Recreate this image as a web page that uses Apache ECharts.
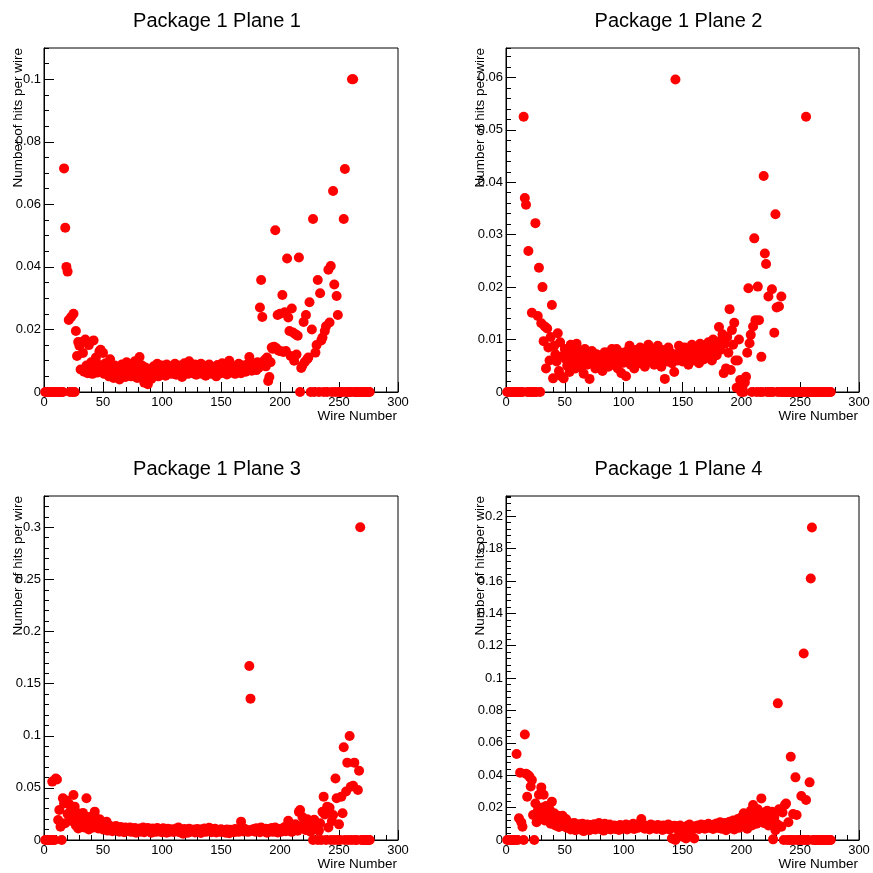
<!DOCTYPE html>
<html>
<head>
<meta charset="utf-8">
<script src="https://cdn.jsdelivr.net/npm/echarts@6/dist/echarts.min.js"></script>
<style>
  html, body { margin: 0; padding: 0; background: #ffffff; }
  #chart { width: 873px; height: 873px; }
</style>
</head>
<body>
<div id="chart"></div>
<script>
// Hit occupancy per wire for the four planes of package 1
const panelTitles = ['Package 1 Plane 1', 'Package 1 Plane 2', 'Package 1 Plane 3', 'Package 1 Plane 4'];
const xTitle = 'Wire Number';
const yTitle = 'Number of hits per wire';

const wireNumbers = Array.from({ length: 276 }, (_, i) => i + 1);

const plane1Hits = [
  0,0,0,0,0,0,0,0,0,0,
  0,0,0,0,0,0,0.0715,0.0525,0.0400,0.0385,
  0.0230,0,0.0240,0,0.0250,0,0.0195,0.0115,0.0160,0.0148,
  0.0072,0.0160,0.0125,0.0065,0.0168,0.0085,0.0060,0.0150,0.0068,0.0095,
  0.0058,0.0165,0.0072,0.0110,0.0062,0.0088,0.0130,0.0135,0.0070,0.0125,
  0.0058,0.0092,0.0065,0.0082,0.0050,0.0105,0.0068,0.0075,0.0045,0.0085,
  0.0070,0.0052,0.0078,0.0040,0.0065,0.0088,0.0055,0.0072,0.0048,0.0095,
  0.0060,0.0080,0.0068,0.0050,0.0082,0.0058,0.0098,0.0064,0.0045,0.0075,
  0.0112,0.0070,0.0085,0.0055,0.0030,0.0078,0.0048,0.0025,0.0058,0.0068,
  0.0042,0.0075,0.0082,0.0055,0.0065,0.0090,0.0050,0.0072,0.0060,0.0085,
  0.0068,0.0078,0.0052,0.0088,0.0062,0.0070,0.0082,0.0058,0.0074,0.0065,
  0.0090,0.0055,0.0068,0.0078,0.0060,0.0085,0.0048,0.0072,0.0092,0.0064,
  0.0075,0.0058,0.0098,0.0068,0.0082,0.0060,0.0072,0.0088,0.0055,0.0066,
  0.0078,0.0062,0.0090,0.0058,0.0070,0.0084,0.0052,0.0075,0.0064,0.0088,
  0.0068,0.0058,0.0080,0.0062,0.0072,0.0050,0.0086,0.0066,0.0078,0.0060,
  0.0092,0.0064,0.0074,0.0088,0.0056,0.0070,0.0100,0.0062,0.0078,0.0068,
  0.0082,0.0058,0.0072,0.0066,0.0090,0.0075,0.0060,0.0085,0.0070,0.0078,
  0.0065,0.0088,0.0072,0.0112,0.0080,0.0068,0.0092,0.0075,0.0085,0.0070,
  0.0095,0.0078,0.0270,0.0358,0.0240,0.0088,0.0102,0.0082,0.0110,0.0035,
  0.0048,0.0095,0.0142,0.0138,0.0145,0.0517,0.0140,0.0246,0.0132,0.0250,
  0.0130,0.0310,0.0128,0.0255,0.0131,0.0427,0.0238,0.0195,0.0115,0.0267,
  0.0190,0.0100,0.0185,0.0120,0.0180,0.0430,0,0.0077,0.0085,0.0224,
  0.0096,0.0246,0.0105,0.0110,0.0287,0,0.0200,0.0553,0,0.0126,
  0.0150,0.0358,0,0.0316,0.0165,0.0174,0,0.0195,0.0210,0,
  0.0391,0.0222,0.0403,0,0.0643,0.0344,0,0.0307,0.0246,0,
  0,0,0,0.0553,0.0713,0,0,0,0,0,
  0.1000,0.1000,0,0,0,0,0,0,0,0,
  0,0,0,0,0,0
];

const plane2Hits = [
  0,0,0,0,0,0,0,0,0,0,
  0,0,0,0,0.0525,0.0370,0.0357,0,0.0269,0,
  0,0.0151,0,0,0.0322,0,0.0145,0.0237,0,0.0131,
  0.0200,0.0097,0.0125,0.0045,0.0121,0.0085,0.0060,0.0105,0.0166,0.0026,
  0.0088,0.0072,0.0058,0.0112,0.0040,0.0095,0.0030,0.0068,0.0026,0.0082,
  0.0062,0.0050,0.0075,0.0038,0.0090,0.0066,0.0058,0.0080,0.0045,0.0092,
  0.0055,0.0070,0.0048,0.0078,0.0060,0.0035,0.0082,0.0065,0.0052,0.0074,
  0.0025,0.0068,0.0078,0.0055,0.0062,0.0045,0.0072,0.0058,0.0066,0.0050,
  0.0070,0.0040,0.0063,0.0076,0.0055,0.0068,0.0048,0.0073,0.0060,0.0082,
  0.0052,0.0066,0.0058,0.0082,0.0045,0.0070,0.0062,0.0036,0.0075,0.0056,
  0.0068,0.0030,0.0078,0.0060,0.0088,0.0052,0.0072,0.0065,0.0045,0.0080,
  0.0062,0.0075,0.0055,0.0085,0.0068,0.0058,0.0072,0.0048,0.0078,0.0065,
  0.0090,0.0058,0.0070,0.0062,0.0082,0.0052,0.0075,0.0066,0.0088,0.0060,
  0.0072,0.0048,0.0080,0.0065,0.0025,0.0070,0.0058,0.0085,0.0062,0.0075,
  0.0055,0.0068,0.0038,0.0596,0.0072,0.0060,0.0088,0.0066,0.0078,0.0058,
  0.0070,0.0085,0.0062,0.0075,0.0052,0.0080,0.0068,0.0090,0.0060,0.0072,
  0.0078,0.0065,0.0085,0.0055,0.0092,0.0070,0.0080,0.0062,0.0088,0.0075,
  0.0068,0.0095,0.0072,0.0082,0.0060,0.0100,0.0078,0.0090,0.0070,0.0085,
  0.0124,0.0080,0.0099,0.0110,0.0036,0.0092,0.0045,0.0105,0.0075,0.0158,
  0.0042,0.0118,0.0090,0.0132,0.0060,0.0008,0.0060,0.0100,0.0023,0,
  0.0010,0,0.0018,0.0029,0.0075,0.0198,0.0093,0.0109,0,0.0125,
  0.0293,0.0137,0,0.0201,0.0137,0,0.0067,0,0.0412,0.0264,
  0.0244,0,0.0182,0,0,0.0196,0,0.0113,0.0339,0.0161,
  0,0.0163,0,0.0182,0,0,0,0,0,0,
  0,0,0,0,0,0,0,0,0,0,
  0,0,0,0,0.0525,0,0,0,0,0,
  0,0,0,0,0,0,0,0,0,0,
  0,0,0,0,0,0
];

const plane3Hits = [
  0,0,0,0,0,0,0.0560,0,0,0.0590,
  0.0580,0.0192,0.0288,0.0128,0,0.0400,0.0350,0.0160,0.0380,0.0250,
  0.0350,0.0224,0.0300,0.0180,0.0432,0.0320,0.0140,0.0260,0.0110,0.0200,
  0.0150,0.0240,0.0260,0.0120,0.0180,0.0400,0.0220,0.0100,0.0190,0.0140,
  0.0230,0.0120,0.0272,0.0208,0.0160,0.0110,0.0200,0.0130,0.0170,0.0100,
  0.0150,0.0120,0.0176,0.0090,0.0140,0.0110,0.0130,0.0085,0.0120,0.0100,
  0.0135,0.0090,0.0115,0.0080,0.0125,0.0095,0.0110,0.0075,0.0120,0.0090,
  0.0105,0.0085,0.0120,0.0078,0.0100,0.0092,0.0115,0.0070,0.0105,0.0088,
  0.0110,0.0080,0.0098,0.0120,0.0075,0.0105,0.0090,0.0115,0.0082,0.0100,
  0.0070,0.0110,0.0088,0.0100,0.0078,0.0115,0.0092,0.0082,0.0105,0.0075,
  0.0112,0.0085,0.0098,0.0070,0.0108,0.0090,0.0080,0.0102,0.0088,0.0076,
  0.0095,0.0110,0.0082,0.0120,0.0075,0.0098,0.0088,0.0060,0.0105,0.0085,
  0.0092,0.0070,0.0108,0.0080,0.0095,0.0086,0.0100,0.0072,0.0090,0.0105,
  0.0080,0.0095,0.0068,0.0102,0.0088,0.0110,0.0078,0.0095,0.0085,0.0118,
  0.0090,0.0075,0.0100,0.0085,0.0108,0.0072,0.0095,0.0088,0.0080,0.0102,
  0.0078,0.0095,0.0085,0.0070,0.0100,0.0088,0.0065,0.0098,0.0082,0.0092,
  0.0075,0.0105,0.0085,0.0095,0.0078,0.0100,0.0176,0.0090,0.0082,0.0108,
  0.0085,0.0095,0.0078,0.1670,0.1356,0.0098,0.0088,0.0105,0.0080,0.0112,
  0.0090,0.0100,0.0075,0.0120,0.0088,0.0098,0.0082,0.0108,0.0070,0.0095,
  0.0105,0.0085,0.0115,0.0078,0.0098,0.0120,0.0088,0.0072,0.0105,0.0092,
  0.0080,0.0110,0.0095,0.0125,0.0085,0.0100,0.0185,0.0090,0.0112,0.0078,
  0.0120,0.0095,0.0150,0.0105,0.0088,0.0270,0.0288,0.0135,0.0220,0.0110,
  0.0165,0.0095,0.0200,0.0140,0.0180,0.0080,0.0150,0,0.0195,0.0105,
  0.0140,0,0.0090,0.0160,0,0.0270,0.0416,0.0245,0,0.0320,
  0.0120,0.0310,0,0.0180,0.0240,0,0.0590,0.0400,0,0.0150,
  0,0.0416,0.0256,0.0890,0,0.0466,0.0742,0,0.0998,0.0510,
  0,0.0520,0.0742,0,0,0.0480,0.0665,0.3000,0,0,
  0,0,0,0,0,0
];

const plane4Hits = [
  0,0,0,0,0,0,0,0,0.0531,0,
  0.0134,0.0416,0.0110,0.0082,0,0.0652,0.0410,0.0267,0.0400,0.0390,
  0.0330,0.0370,0.0154,0,0.0226,0.0110,0.0180,0.0280,0.0150,0.0325,
  0.0200,0.0280,0.0120,0.0210,0.0160,0.0130,0.0190,0.0100,0.0237,0.0140,
  0.0165,0.0090,0.0120,0.0150,0.0080,0.0140,0.0105,0.0150,0.0085,0.0120,
  0.0130,0.0075,0.0110,0.0090,0.0065,0.0100,0.0080,0.0105,0.0060,0.0090,
  0.0075,0.0098,0.0065,0.0085,0.0100,0.0055,0.0088,0.0070,0.0095,0.0078,
  0.0060,0.0092,0.0082,0.0070,0.0098,0.0065,0.0085,0.0075,0.0105,0.0068,
  0.0090,0.0080,0.0058,0.0100,0.0078,0.0088,0.0070,0.0095,0.0065,0.0082,
  0.0075,0.0090,0.0068,0.0085,0.0078,0.0062,0.0092,0.0080,0.0070,0.0088,
  0.0075,0.0095,0.0065,0.0085,0.0078,0.0090,0.0072,0.0100,0.0068,0.0082,
  0.0090,0.0075,0.0085,0.0105,0.0130,0.0080,0.0092,0.0070,0.0088,0.0078,
  0.0085,0.0065,0.0095,0.0078,0.0090,0.0072,0.0085,0.0068,0.0092,0.0080,
  0.0075,0.0088,0.0062,0.0090,0.0078,0.0085,0.0070,0.0095,0.0065,0.0082,
  0.0010,0.0078,0.0088,0,0.0072,0.0085,0.0030,0.0090,0.0068,0.0020,
  0.0080,0.0075,0.0010,0.0088,0.0070,0.0095,0.0035,0.0082,0.0075,0.0010,
  0.0085,0.0072,0.0090,0.0068,0.0080,0.0095,0.0075,0.0088,0.0070,0.0092,
  0.0082,0.0100,0.0075,0.0090,0.0085,0.0068,0.0095,0.0080,0.0102,0.0075,
  0.0088,0.0110,0.0070,0.0095,0.0085,0.0105,0.0060,0.0098,0.0080,0.0112,
  0.0072,0.0100,0.0120,0.0065,0.0105,0.0090,0.0130,0.0075,0.0115,0.0140,
  0.0085,0.0165,0.0100,0.0125,0.0070,0.0145,0.0110,0.0180,0.0090,0.0216,
  0.0130,0.0160,0.0100,0.0190,0.0120,0.0150,0.0257,0.0140,0.0105,0.0170,
  0.0130,0.0180,0.0090,0.0160,0.0120,0.0175,0.0004,0.0140,0.0060,0.0100,
  0.0844,0.0190,0.0085,0.0082,0.0170,0,0.0216,0.0226,0,0.0110,
  0,0.0514,0,0.0160,0,0.0387,0.0154,0,0,0,
  0.0272,0,0.1152,0,0.0247,0,0,0.0356,0.1615,0.1930,
  0,0,0,0,0,0,0,0,0,0,
  0,0,0,0,0,0
];

const planeHits = [plane1Hits, plane2Hits, plane3Hits, plane4Hits];

// y-axis ranges: top of frame, labelled step, minor tick step
const yMax = [0.11, 0.0656, 0.33, 0.2125];
const yStep = [0.02, 0.01, 0.05, 0.02];
const yMinorStep = [0.005, 0.002, 0.01, 0.004];

const FONT = 'Liberation Sans, Arial, Helvetica, sans-serif';

// pad frames in pixels
const frames = [
  { left: 44, top: 48, width: 354, height: 344 },
  { left: 506, top: 48, width: 353, height: 344 },
  { left: 44, top: 496, width: 354, height: 344 },
  { left: 506, top: 496, width: 353, height: 344 }
];

const grids = [], xAxes = [], yAxes = [], series = [], graphics = [];

frames.forEach((f, i) => {
  grids.push({
    left: f.left, top: f.top, width: f.width, height: f.height,
    show: true, borderColor: '#000', borderWidth: 1, backgroundColor: 'transparent',
    containLabel: false
  });

  xAxes.push({
    type: 'value', gridIndex: i, min: 0, max: 300, interval: 50,
    axisLine: { show: true, lineStyle: { color: '#000', width: 1 } },
    axisTick: { show: true, inside: true, length: 10, lineStyle: { color: '#000' } },
    minorTick: { show: true, splitNumber: 5, length: 5, lineStyle: { color: '#000' } },
    splitLine: { show: false }, minorSplitLine: { show: false },
    axisLabel: { color: '#000', fontSize: 13, fontFamily: FONT, margin: 4 }
  });

  // labelled axis
  yAxes.push({
    type: 'value', gridIndex: i, min: 0, max: yMax[i], interval: yStep[i],
    axisLine: { show: true, lineStyle: { color: '#000', width: 1 } },
    axisTick: { show: true, inside: true, length: 10, lineStyle: { color: '#000' } },
    splitLine: { show: false },
    axisLabel: { color: '#000', fontSize: 13, fontFamily: FONT, margin: 3, showMaxLabel: false }
  });
  // fine tick marks
  yAxes.push({
    type: 'value', gridIndex: i, min: 0, max: yMax[i], interval: yMinorStep[i],
    position: 'left', offset: 0,
    axisLine: { show: false },
    axisTick: { show: true, inside: true, length: 5, lineStyle: { color: '#000' } },
    splitLine: { show: false },
    axisLabel: { show: false }
  });

  series.push({
    type: 'scatter', xAxisIndex: i, yAxisIndex: 2 * i,
    symbol: 'circle', symbolSize: 10,
    itemStyle: { color: '#ff0000', opacity: 1 },
    data: planeHits[i].map((v, k) => [wireNumbers[k], v]),
    silent: true
  });

  graphics.push({
    type: 'text', x: f.left + f.width / 2 - 4, y: f.top - 27,
    style: { text: panelTitles[i], fill: '#000', font: '20px ' + FONT, align: 'center', verticalAlign: 'middle' }
  });
  graphics.push({
    type: 'text', x: f.left - 26, y: f.top, rotation: Math.PI / 2,
    style: { text: yTitle, fill: '#000', font: '13.5px ' + FONT, align: 'right', verticalAlign: 'middle' }
  });
  graphics.push({
    type: 'text', x: f.left + f.width - 1, y: f.top + f.height + 24.5,
    style: { text: xTitle, fill: '#000', font: '13.5px ' + FONT, align: 'right', verticalAlign: 'middle' }
  });
});

const chart = echarts.init(document.getElementById('chart'), null, { renderer: 'canvas' });
chart.setOption({
  backgroundColor: '#ffffff',
  animation: false,
  grid: grids,
  xAxis: xAxes,
  yAxis: yAxes,
  series: series,
  graphic: graphics
});
</script>
</body>
</html>
